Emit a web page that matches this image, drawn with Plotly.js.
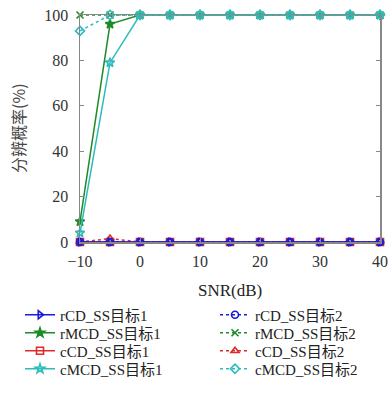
<!DOCTYPE html>
<html><head><meta charset="utf-8">
<script src="https://cdn.plot.ly/plotly-3.0.1.min.js"></script>
<style>html,body{margin:0;padding:0;background:#fff;}#chart{width:392px;height:394px;}</style>
</head><body><div id="chart"></div>
<script>
const snr = [-10, -5, 0, 5, 10, 15, 20, 25, 30, 35, 40];
const names = ["rCD_SS目标1","rCD_SS目标2","rMCD_SS目标1","rMCD_SS目标2","cCD_SS目标1","cCD_SS目标2","cMCD_SS目标1","cMCD_SS目标2"];
const xTitle = "SNR(dB)";
const yTitle = "分辨概率(%)";
const rCD1  = [0,0,0,0,0,0,0,0,0,0,0];
const rCD2  = [0,0,0,0,0,0,0,0,0,0,0];
const rMCD1 = [9,96,100,100,100,100,100,100,100,100,100];
const rMCD2 = [100,100,100,100,100,100,100,100,100,100,100];
const cCD1  = [0,0,0,0,0,0,0,0,0,0,0];
const cCD2  = [0,1.5,0,0,0,0,0,0,0,0,0];
const cMCD1 = [4,79,100,100,100,100,100,100,100,100,100];
const cMCD2 = [93,100,100,100,100,100,100,100,100,100,100];

const blue="#1a1ad8", green="#1f8a2a", red="#e02a2a", cyan="#2cbcbc";
const styles = [
  {c:blue, d:"solid", m:"triangle-right-open"},
  {c:blue, d:"dot", m:"circle-open"},
  {c:green, d:"solid", m:"star"},
  {c:green, d:"dot", m:"x-thin-open"},
  {c:red, d:"solid", m:"square-open"},
  {c:red, d:"dot", m:"triangle-up-open"},
  {c:cyan, d:"solid", m:"star-open"},
  {c:cyan, d:"dot", m:"diamond-open"}
];
const series=[rCD1,rCD2,rMCD1,rMCD2,cCD1,cCD2,cMCD1,cMCD2];
// draw order: red first, then blue, then green, then cyan
const drawOrder=[4,5,0,1,2,3,6,7];
const legendIds=["legend","legend2","legend3","legend4","legend5","legend6","legend7","legend8"];
const traces = drawOrder.map(i=>({
  x: snr, y: series[i], name: names[i], type:"scatter", mode:"lines+markers", cliponaxis:false,
  legend: legendIds[i],
  line:{color:styles[i].c, width:1.5, dash:styles[i].d},
  marker:{symbol:styles[i].m, size:7, color:styles[i].c, line:{color:styles[i].c, width:1.6}}
}));
const tickFont = {family:"Liberation Serif, serif", size:16, color:"#333"};
const legFont = {family:"Liberation Serif, Noto Sans CJK SC, serif", size:15, color:"#222"};
const layout = {
  width:392, height:394, paper_bgcolor:"#fff", plot_bgcolor:"#fff",
  margin:{l:80, r:12, t:15, b:152, autoexpand:false},
  font: tickFont,
  showlegend:true,
  xaxis:{range:[-10,40], tickvals:[-10,0,10,20,30,40], ticks:"inside", ticklen:4, tickcolor:"#888",
    showline:true, linecolor:"#888", linewidth:1.5, mirror:"ticks", showgrid:false, zeroline:false,
    tickfont:tickFont, ticklabelstandoff:4,
    minor:{tickvals:[-5,5,15,25,35], ticks:"inside", ticklen:2, tickcolor:"#888"}},
  yaxis:{range:[0,100], tickvals:[0,20,40,60,80,100], ticks:"inside", ticklen:4, tickcolor:"#888",
    showline:true, linecolor:"#888", linewidth:1.5, mirror:"ticks", showgrid:false, zeroline:false,
    tickfont:tickFont, ticklabelstandoff:7},
  annotations:[
    {text:xTitle, xref:"paper", yref:"paper", x:0.5, y:(242-290)/227, xanchor:"center", yanchor:"middle",
     showarrow:false, font:{family:"Liberation Serif, serif", size:17, color:"#222"}},
    {text:yTitle, xref:"paper", yref:"paper", x:(18-80)/300, y:(242-128)/227, xanchor:"center", yanchor:"middle",
     textangle:-90, showarrow:false, font:{family:"Noto Sans CJK SC, serif", size:16, color:"#444"}}
  ]
};
const colX=[20,215], rowY=[315,333,351,369];
legendIds.forEach((id,i)=>{
  layout[id]={x:colX[i%2]/392, xref:"container", xanchor:"left",
    y:(394-rowY[Math.floor(i/2)])/394, yref:"container", yanchor:"middle",
    font:legFont, bgcolor:"rgba(0,0,0,0)", borderwidth:0, orientation:"v"};
});
Plotly.newPlot("chart", traces, layout, {staticPlot:true});
</script></body></html>
